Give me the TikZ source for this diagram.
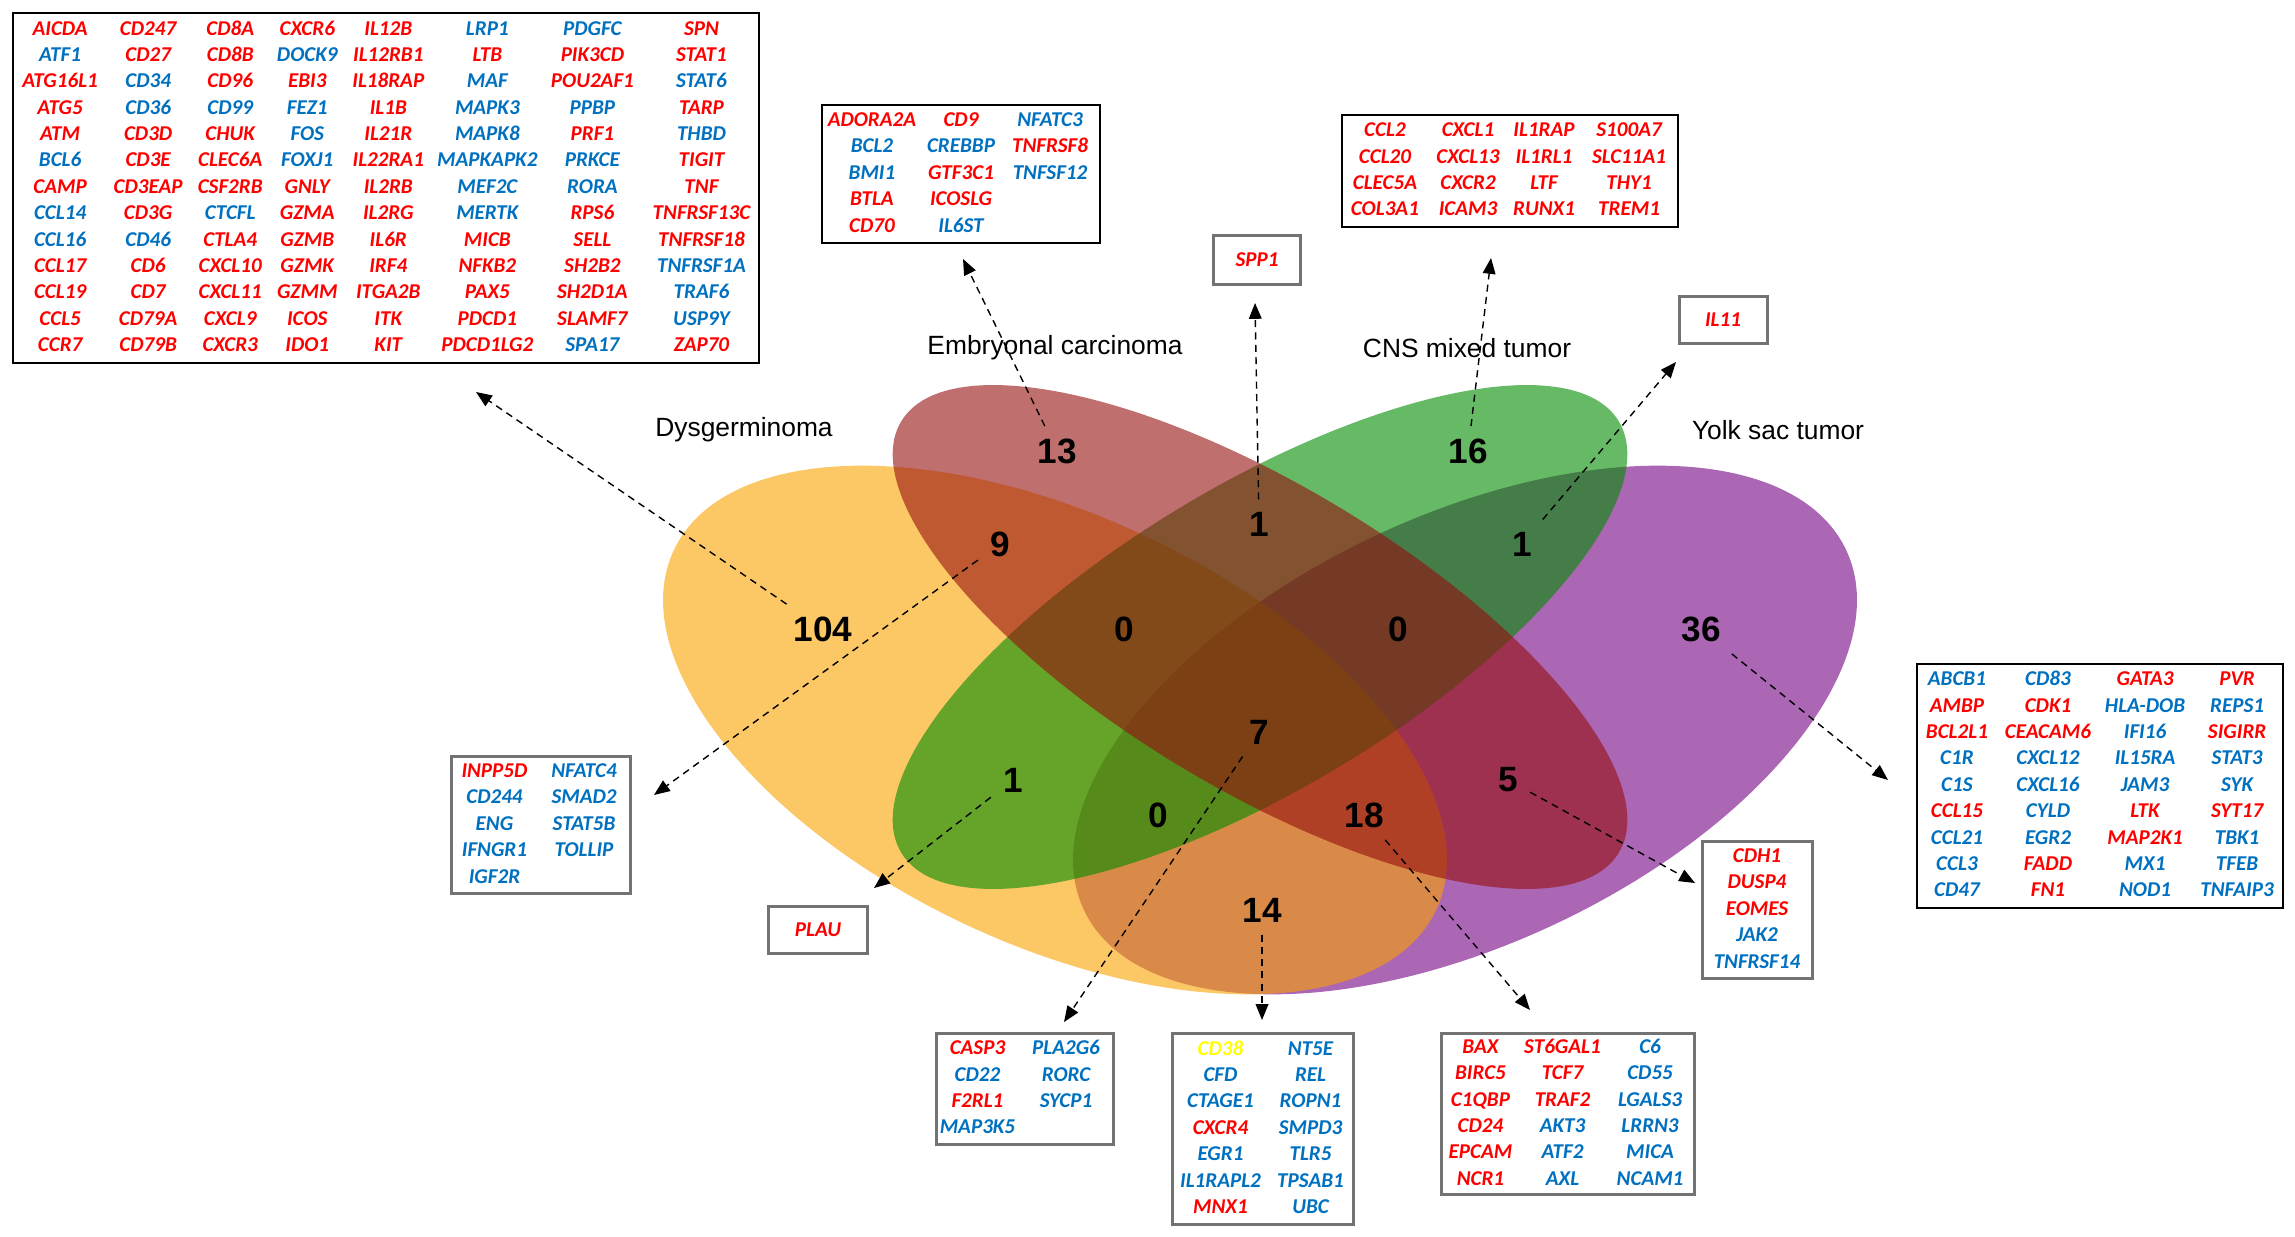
\documentclass[tikz,border=0pt]{standalone}
\usepackage{fontspec}
\usepackage{array}
\setmainfont{Liberation Sans}
\newfontfamily\genefont{Carlito}
\usetikzlibrary{arrows.meta,positioning}

\definecolor{genered}{RGB}{255,0,0}
\definecolor{geneblue}{RGB}{0,112,192}
\definecolor{geneyellow}{RGB}{255,255,0}
\definecolor{dysfill}{RGB}{250,163,0}
\definecolor{embfill}{RGB}{150,15,15}
\definecolor{cnsfill}{RGB}{0,140,0}
\definecolor{yolkfill}{RGB}{115,0,130}

\newcolumntype{C}[1]{>{\centering\arraybackslash}p{#1}}
\setlength{\tabcolsep}{0pt}
\newcommand{\rgn}[1]{\textcolor{genered}{#1}}
\newcommand{\bgn}[1]{\textcolor{geneblue}{#1}}

\tikzset{
  genes/.style={draw=black, line width=0.02cm, inner sep=0pt,
    font=\genefont\bfseries\itshape\fontsize{6pt}{7.5pt}\selectfont},
  genesgray/.style={genes, draw=black!55, line width=0.03cm},
  setlabel/.style={font=\fontsize{7.5pt}{9pt}\selectfont},
  count/.style={font=\bfseries\fontsize{10pt}{12pt}\selectfont},
  arr/.style={line width=0.4pt, dash pattern=on 2pt off 1.5pt,
    -{Triangle[length=4.5pt,width=3.6pt]}},
  venn/.style={fill opacity=0.6}
}

\begin{document}
\begin{tikzpicture}[x=0.01cm,y=-0.01cm]
\useasboundingbox (0,0) rectangle (2295,1237);

% the four sets
\fill[venn, yolkfill, shift={(1465,730)}, rotate=25.3] (0,0) ellipse [x radius=421.5, y radius=214];
\fill[venn, dysfill, shift={(1055,730)}, rotate=-25.3] (0,0) ellipse [x radius=421.5, y radius=214];
\fill[venn, cnsfill, shift={(1260,637)}, rotate=31] (0,0) ellipse [x radius=418.6, y radius=152];
\fill[venn, embfill, shift={(1260,637)}, rotate=-31] (0,0) ellipse [x radius=418.6, y radius=152];

\node[setlabel] (lblD) at (744,430) {Dysgerminoma};
\node[setlabel] (lblE) at (1055,348) {Embryonal carcinoma};
\node[setlabel] (lblC) at (1467,348) {CNS mixed tumor};
\node[setlabel] (lblY) at (1778,430) {Yolk sac tumor};

% region counts
\node[count] (n13) at (1057,451) {13};
\node[count] (n16) at (1468,451) {16};
\node[count] (n104) at (823,629) {104};
\node[count] (n36) at (1701,629) {36};
\node[count] (n9) at (1000,544) {9};
\node[count] (n1ec) at (1259,524) {1};
\node[count] (n1cy) at (1522,544) {1};
\node[count] (n0dec) at (1124,629) {0};
\node[count] (n0ecy) at (1398,629) {0};
\node[count] (n7) at (1259,732) {7};
\node[count] (n1dc) at (1013,780) {1};
\node[count] (n5) at (1508,780) {5};
\node[count] (n0dcy) at (1158,815) {0};
\node[count] (n18) at (1364,815) {18};
\node[count] (n14) at (1262,910) {14};

% gene lists
\node[genes, minimum width=7.46cm, minimum height=3.50cm] (tabD) at (386,188) {%
\begin{tabular}{C{0.946cm}C{0.814cm}C{0.826cm}C{0.714cm}C{0.906cm}C{1.074cm}C{1.026cm}C{1.154cm}}
\rgn{AICDA} & \rgn{CD247} & \rgn{CD8A} & \rgn{CXCR6} & \rgn{IL12B} & \bgn{LRP1} & \bgn{PDGFC} & \rgn{SPN}\\
\bgn{ATF1} & \rgn{CD27} & \rgn{CD8B} & \bgn{DOCK9} & \rgn{IL12RB1} & \rgn{LTB} & \rgn{PIK3CD} & \rgn{STAT1}\\
\rgn{ATG16L1} & \bgn{CD34} & \rgn{CD96} & \rgn{EBI3} & \rgn{IL18RAP} & \bgn{MAF} & \rgn{POU2AF1} & \bgn{STAT6}\\
\rgn{ATG5} & \bgn{CD36} & \bgn{CD99} & \bgn{FEZ1} & \rgn{IL1B} & \bgn{MAPK3} & \bgn{PPBP} & \rgn{TARP}\\
\rgn{ATM} & \rgn{CD3D} & \rgn{CHUK} & \bgn{FOS} & \rgn{IL21R} & \bgn{MAPK8} & \rgn{PRF1} & \bgn{THBD}\\
\bgn{BCL6} & \rgn{CD3E} & \rgn{CLEC6A} & \bgn{FOXJ1} & \rgn{IL22RA1} & \bgn{MAPKAPK2} & \bgn{PRKCE} & \rgn{TIGIT}\\
\rgn{CAMP} & \rgn{CD3EAP} & \rgn{CSF2RB} & \rgn{GNLY} & \rgn{IL2RB} & \bgn{MEF2C} & \bgn{RORA} & \rgn{TNF}\\
\bgn{CCL14} & \rgn{CD3G} & \bgn{CTCFL} & \rgn{GZMA} & \rgn{IL2RG} & \bgn{MERTK} & \rgn{RPS6} & \rgn{TNFRSF13C}\\
\bgn{CCL16} & \bgn{CD46} & \rgn{CTLA4} & \rgn{GZMB} & \rgn{IL6R} & \rgn{MICB} & \rgn{SELL} & \rgn{TNFRSF18}\\
\rgn{CCL17} & \rgn{CD6} & \rgn{CXCL10} & \rgn{GZMK} & \rgn{IRF4} & \rgn{NFKB2} & \rgn{SH2B2} & \bgn{TNFRSF1A}\\
\rgn{CCL19} & \rgn{CD7} & \rgn{CXCL11} & \rgn{GZMM} & \rgn{ITGA2B} & \rgn{PAX5} & \rgn{SH2D1A} & \bgn{TRAF6}\\
\rgn{CCL5} & \rgn{CD79A} & \rgn{CXCL9} & \rgn{ICOS} & \rgn{ITK} & \rgn{PDCD1} & \rgn{SLAMF7} & \bgn{USP9Y}\\
\rgn{CCR7} & \rgn{CD79B} & \rgn{CXCR3} & \rgn{IDO1} & \rgn{KIT} & \rgn{PDCD1LG2} & \bgn{SPA17} & \rgn{ZAP70}
\end{tabular}};

\node[genes, minimum width=2.78cm, minimum height=1.38cm] (tabE) at (961,174) {%
\begin{tabular}{C{1.00cm}C{0.78cm}C{1.00cm}}
\rgn{ADORA2A} & \rgn{CD9} & \bgn{NFATC3}\\
\bgn{BCL2} & \bgn{CREBBP} & \rgn{TNFRSF8}\\
\bgn{BMI1} & \rgn{GTF3C1} & \bgn{TNFSF12}\\
\rgn{BTLA} & \rgn{ICOSLG} & \\
\rgn{CD70} & \bgn{IL6ST} &
\end{tabular}};

\node[genes, minimum width=3.36cm, minimum height=1.11cm] (tabC) at (1510,171) {%
\begin{tabular}{C{0.86cm}C{0.80cm}C{0.72cm}C{0.98cm}}
\rgn{CCL2} & \rgn{CXCL1} & \rgn{IL1RAP} & \rgn{S100A7}\\
\rgn{CCL20} & \rgn{CXCL13} & \rgn{IL1RL1} & \rgn{SLC11A1}\\
\rgn{CLEC5A} & \rgn{CXCR2} & \rgn{LTF} & \rgn{THY1}\\
\rgn{COL3A1} & \rgn{ICAM3} & \rgn{RUNX1} & \rgn{TREM1}
\end{tabular}};

\node[genes, minimum width=3.66cm, minimum height=2.44cm] (tabY) at (2100,786) {%
\begin{tabular}{C{0.80cm}C{1.02cm}C{0.92cm}C{0.92cm}}
\bgn{ABCB1} & \bgn{CD83} & \rgn{GATA3} & \rgn{PVR}\\
\rgn{AMBP} & \rgn{CDK1} & \bgn{HLA-DOB} & \bgn{REPS1}\\
\rgn{BCL2L1} & \rgn{CEACAM6} & \bgn{IFI16} & \rgn{SIGIRR}\\
\bgn{C1R} & \bgn{CXCL12} & \bgn{IL15RA} & \bgn{STAT3}\\
\bgn{C1S} & \bgn{CXCL16} & \bgn{JAM3} & \bgn{SYK}\\
\rgn{CCL15} & \bgn{CYLD} & \rgn{LTK} & \rgn{SYT17}\\
\bgn{CCL21} & \bgn{EGR2} & \rgn{MAP2K1} & \bgn{TBK1}\\
\bgn{CCL3} & \rgn{FADD} & \bgn{MX1} & \bgn{TFEB}\\
\bgn{CD47} & \rgn{FN1} & \bgn{NOD1} & \bgn{TNFAIP3}
\end{tabular}};

\node[genesgray, minimum width=1.79cm, minimum height=1.36cm] (tabDE) at (541,825) {%
\begin{tabular}{C{0.86cm}C{0.93cm}}
\rgn{INPP5D} & \bgn{NFATC4}\\
\bgn{CD244} & \bgn{SMAD2}\\
\bgn{ENG} & \bgn{STAT5B}\\
\bgn{IFNGR1} & \bgn{TOLLIP}\\
\bgn{IGF2R} &
\end{tabular}};

\node[genesgray, minimum width=1.77cm, minimum height=1.11cm] (tabAll) at (1025,1089) {%
\begin{tabular}{C{0.82cm}C{0.95cm}}
\rgn{CASP3} & \bgn{PLA2G6}\\
\bgn{CD22} & \bgn{RORC}\\
\rgn{F2RL1} & \bgn{SYCP1}\\
\bgn{MAP3K5} &
\end{tabular}};

\node[genesgray, minimum width=1.80cm, minimum height=1.90cm] (tabDY) at (1263,1129) {%
\begin{tabular}{C{0.95cm}C{0.85cm}}
\textcolor{geneyellow}{CD38} & \bgn{NT5E}\\
\bgn{CFD} & \bgn{REL}\\
\bgn{CTAGE1} & \bgn{ROPN1}\\
\rgn{CXCR4} & \bgn{SMPD3}\\
\bgn{EGR1} & \bgn{TLR5}\\
\bgn{IL1RAPL2} & \bgn{TPSAB1}\\
\rgn{MNX1} & \bgn{UBC}
\end{tabular}};

\node[genesgray, minimum width=2.53cm, minimum height=1.61cm] (tabDEY) at (1568,1114) {%
\begin{tabular}{C{0.78cm}C{0.86cm}C{0.89cm}}
\rgn{BAX} & \rgn{ST6GAL1} & \bgn{C6}\\
\rgn{BIRC5} & \rgn{TCF7} & \bgn{CD55}\\
\rgn{C1QBP} & \rgn{TRAF2} & \bgn{LGALS3}\\
\rgn{CD24} & \bgn{AKT3} & \bgn{LRRN3}\\
\rgn{EPCAM} & \bgn{ATF2} & \bgn{MICA}\\
\rgn{NCR1} & \bgn{AXL} & \bgn{NCAM1}
\end{tabular}};

\node[genesgray, minimum width=1.10cm, minimum height=1.36cm] (tabEY) at (1757,910) {%
\begin{tabular}{C{1.10cm}}
\rgn{CDH1}\\ \rgn{DUSP4}\\ \rgn{EOMES}\\ \bgn{JAK2}\\ \bgn{TNFRSF14}
\end{tabular}};

\node[genesgray, minimum width=0.86cm, minimum height=0.49cm] (boxEC) at (1257,260) {\rgn{SPP1}};
\node[genesgray, minimum width=0.88cm, minimum height=0.47cm] (boxCY) at (1723,320) {\rgn{IL11}};
\node[genesgray, minimum width=0.98cm, minimum height=0.47cm] (boxDC) at (818,930) {\rgn{PLAU}};

% arrow tips
\coordinate (t104) at (476,392);
\coordinate (t13) at (963,259);
\coordinate (t1ec) at (1255,303);
\coordinate (t16) at (1491,258);
\coordinate (t1cy) at (1676,362);
\coordinate (t36) at (1888,780);
\coordinate (t9) at (654,795);
\coordinate (t1dc) at (874,888);
\coordinate (t7) at (1064,1022);
\coordinate (t14) at (1262,1020);
\coordinate (t18) at (1530,1010);
\coordinate (t5) at (1695,883);

\draw[arr] (n104) -- (t104);
\draw[arr] (n13) -- (t13);
\draw[arr] (n1ec) -- (t1ec);
\draw[arr] (n16) -- (t16);
\draw[arr] (n1cy) -- (t1cy);
\draw[arr] (n36) -- (t36);
\draw[arr] (n9) -- (t9);
\draw[arr] (n1dc) -- (t1dc);
\draw[arr] (n7) -- (t7);
\draw[arr] (n14) -- (t14);
\draw[arr] (n18) -- (t18);
\draw[arr] (n5) -- (t5);
\end{tikzpicture}
\end{document}
